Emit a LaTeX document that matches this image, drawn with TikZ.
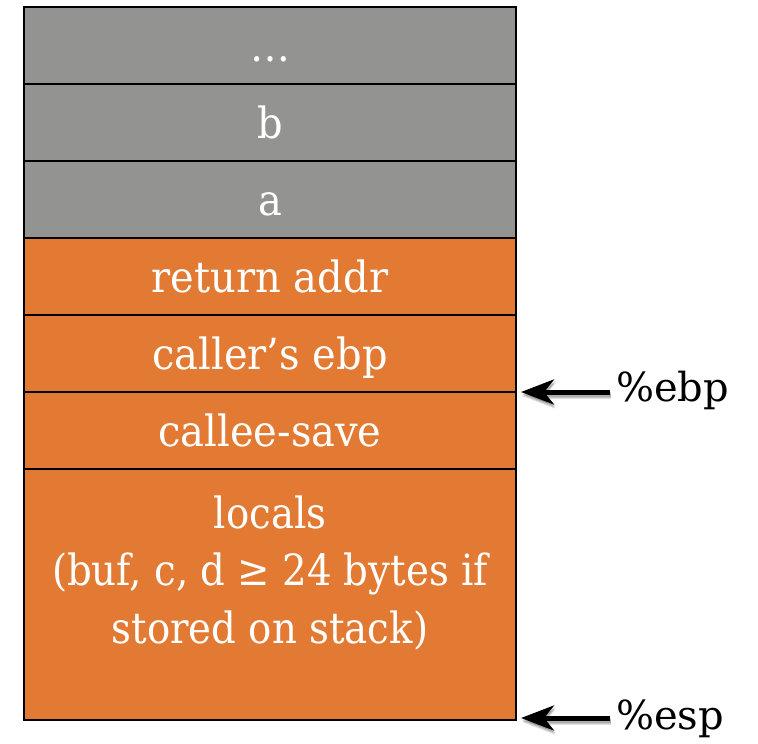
\documentclass[tikz,border=0pt]{standalone}
\usepackage{fontspec}
\setmainfont[FakeStretch=0.93]{DejaVu Serif}
\newfontfamily\regfont{DejaVu Serif}
\newfontfamily\localsfont[FakeStretch=0.9]{DejaVu Serif}
\usetikzlibrary{arrows.meta}
\definecolor{slotgray}{HTML}{939492}
\definecolor{frameorange}{HTML}{E37A33}
\tikzset{
  x=1pt, y=1pt,
  slot/.style={draw=black, line width=2.5pt, minimum width=492pt, minimum height=77pt,
    inner sep=0pt, outer sep=0pt, text=white, font=\fontsize{43}{50}\selectfont,
    text height=39pt, text depth=8pt},
  oldslot/.style={slot, fill=slotgray},
  frameslot/.style={slot, fill=frameorange},
  ptrtip/.style={-{Stealth[length=33pt,width=25pt,inset=10pt]}, line width=5pt},
  regptr/.style={ptrtip, black},
  regshadow/.style={ptrtip, black, opacity=0.12},
  reglabel/.style={inner sep=0pt, font=\regfont\fontsize{40}{46}\selectfont}
}
\begin{document}
\begin{tikzpicture}
\useasboundingbox (0,0) rectangle (758,-744);
% caller's part of the stack
\node[oldslot]   (dots)   at (270,-45.5)  {…};
\node[oldslot]   (argb)   at (270,-122.5) {b};
\node[oldslot]   (arga)   at (270,-199.5) {a};
% current frame
\node[frameslot] (ret)    at (270,-276.5) {return addr};
\node[frameslot] (oldebp) at (270,-353.5) {caller’s ebp};
\node[frameslot] (saved)  at (270,-430.5) {callee-save};
\node[frameslot, minimum height=251pt] (locals) at (270,-594.5) {};
\node[text=white, align=center, inner sep=0pt,
      font=\localsfont\fontsize{43}{57.5}\selectfont] (localstext) at (270,-573)
  {locals\\(buf, c, d ≥ 24 bytes if\\stored on stack)};
% register pointers
\coordinate (ebptail) at (610,-392);
\coordinate (esptail) at (610,-718);
\coordinate (ebptip) at (521,-392);
\coordinate (esptip) at (521,-718);
\foreach \d in {2,3,4} {
  \draw[regshadow] ([shift={(1,-\d)}]ebptail) -- ([shift={(1,-\d)}]ebptip);
  \draw[regshadow] ([shift={(1,-\d)}]esptail) -- ([shift={(1,-\d)}]esptip);
}
\draw[regptr] (ebptail) -- (ebptip);
\draw[regptr] (esptail) -- (esptip);
\node[reglabel, anchor=base west] (ebp) at (616,-401) {\%ebp};
\node[reglabel, anchor=base west] (esp) at (616,-729) {\%esp};
\end{tikzpicture}
\end{document}
